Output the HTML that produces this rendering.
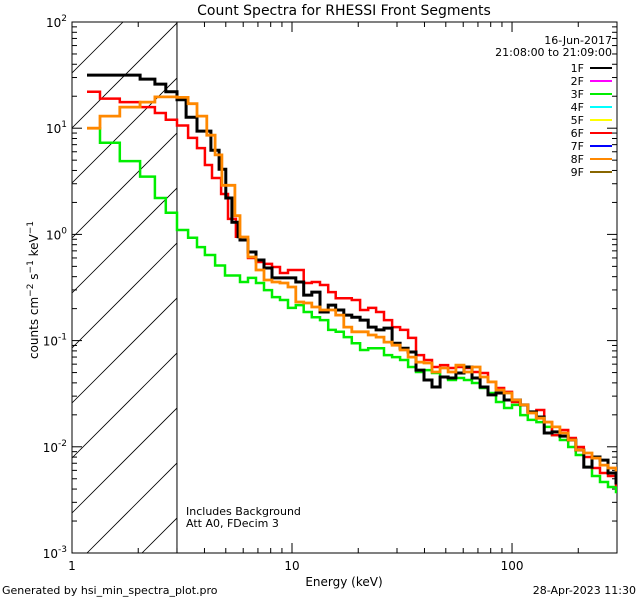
<!DOCTYPE html>
<html><head><meta charset="utf-8"><style>
html,body{margin:0;padding:0;background:#fff;width:640px;height:600px;overflow:hidden;}
svg{display:block;font-family:"DejaVu Sans","Liberation Sans",sans-serif;}
</style></head><body>
<svg id="chart" width="640" height="600" viewBox="0 0 640 600">
<defs><clipPath id="pc"><rect x="72" y="22" width="545" height="531"/></clipPath>
<clipPath id="hc"><rect x="72" y="22" width="105" height="531"/></clipPath></defs>
<text x="344" y="15" font-size="14" text-anchor="middle">Count Spectra for RHESSI Front Segments</text>
<g id="hatch" clip-path="url(#hc)"></g>
<g id="axes"></g>
<g id="series" clip-path="url(#pc)"></g>
<g id="legend"></g>
<text x="186" y="515" font-size="11">Includes Background</text>
<text x="186" y="527" font-size="11">Att A0, FDecim 3</text>
<text x="344" y="586" font-size="12" text-anchor="middle">Energy (keV)</text>
<text transform="translate(38,290) rotate(-90)" font-size="12" text-anchor="middle">counts cm<tspan dy="-5" font-size="9">−2</tspan><tspan dy="5"> s</tspan><tspan dy="-5" font-size="9">−1</tspan><tspan dy="5"> keV</tspan><tspan dy="-5" font-size="9">−1</tspan></text>
<text x="2" y="594" font-size="11">Generated by hsi_min_spectra_plot.pro</text>
<text x="636" y="594" font-size="11" text-anchor="end">28-Apr-2023 11:30</text>
</svg>
<script>
const xTickValues=[1,10,100];
const xTickLabels=["1","10","100"];
const yTickExps=[-3,-2,-1,0,1,2];
const legendLabels=["1F","2F","3F","4F","5F","6F","7F","8F","9F"];
const legendColors=["#000","#f0f","#0e0","#0ff","#ff0","#f00","#00f","#f80","#860"];
// shared high-energy bin edges (keV)
const highE=[5.80,6.31,6.86,7.46,8.11,8.82,9.59,10.4,11.3,12.3,13.4,14.6,15.8,17.2,18.7,20.4,22.2,24.1,26.2,28.5,31.0,33.7,36.6,39.8,43.3,47.1,51.2,55.6,60.5,65.8,71.6,77.8,84.6,92.0,100,109,118,129,140,152,165,180,195,212,231,251,273,297];
const blackLowE=[1.17,2.04,2.38,2.67,3.0,3.3,3.7,4.28,4.66,5.0,5.33,5.69];
const blackLowV=[31.6,29,26,22,18.5,12.7,9.4,6.2,4.1,2.2,1.3,0.95];
const blackHighV=[0.885,0.683,0.574,0.483,0.389,0.389,0.389,0.356,0.268,0.286,0.186,0.216,0.194,0.174,0.166,0.156,0.134,0.126,0.131,0.0946,0.0849,0.0781,0.0528,0.0426,0.0366,0.0454,0.0444,0.0495,0.0564,0.0444,0.0366,0.0308,0.0321,0.0276,0.0276,0.0248,0.0213,0.0191,0.0135,0.0138,0.0126,0.0116,0.00933,0.00644,0.00801,0.0075,0.00567,0.00456];
const redLowE=[1.17,1.34,1.65,2.04,2.38,2.67,3.0,3.37,3.7,4.02,4.33,4.76,5.12,5.56];
const redLowV=[22,19,17.6,15.8,13.9,12,10.6,8.1,6.5,4.5,3.4,2.4,1.4,0.95];
const redHighV=[0.885,0.600,0.550,0.527,0.493,0.433,0.462,0.462,0.349,0.356,0.334,0.286,0.251,0.251,0.241,0.194,0.203,0.186,0.156,0.134,0.126,0.106,0.0731,0.0656,0.0564,0.0588,0.0552,0.0564,0.0552,0.0506,0.0495,0.0408,0.0358,0.0329,0.0264,0.0248,0.0213,0.0222,0.0171,0.0129,0.0144,0.0121,0.00996,0.00801,0.00631,0.00567,0.00531,0.00437];
const orangeLowE=[1.17,1.34,1.65,2.04,2.38,3.0,3.37,3.7,4.1,4.47,4.8,5.5];
const orangeLowV=[10,13,15.8,17.6,19.7,19.5,17,13,8.6,5.6,2.9,1.5];
const orangeHighV=[0.945,0.612,0.462,0.372,0.356,0.349,0.320,0.231,0.226,0.207,0.194,0.194,0.174,0.134,0.121,0.121,0.113,0.108,0.0967,0.0906,0.0815,0.0700,0.0628,0.0615,0.0506,0.0552,0.0506,0.0588,0.0506,0.0564,0.0454,0.0408,0.0343,0.0321,0.0276,0.0248,0.0208,0.0186,0.0171,0.0154,0.0135,0.0116,0.00933,0.00874,0.00783,0.00673,0.00631,0.00605];
const greenLowE=[1.17,1.34,1.65,2.04,2.38,2.67,3.0,3.37,3.7,4.02,4.47,4.96];
const greenLowV=[10,7.3,4.9,3.5,2.2,1.6,1.1,0.93,0.76,0.64,0.51,0.41];
const greenHighV=[0.356,0.389,0.349,0.299,0.257,0.241,0.203,0.216,0.186,0.166,0.156,0.126,0.121,0.108,0.0946,0.0815,0.0849,0.0849,0.0731,0.0700,0.0656,0.0564,0.0506,0.0528,0.0495,0.0454,0.0426,0.0444,0.0426,0.0399,0.0358,0.0321,0.0264,0.0232,0.0248,0.0199,0.0179,0.0171,0.0154,0.0129,0.0116,0.00996,0.00837,0.00644,0.00531,0.00466,0.00418,0.00375];

const NS="http://www.w3.org/2000/svg";
const X0=72,X1=617,Y0=22,Y1=553;
const xMin=1,xMax=300,yMinE=-3,yMaxE=2;
function sx(e){return X0+(X1-X0)*(Math.log10(e)-Math.log10(xMin))/(Math.log10(xMax)-Math.log10(xMin));}
function sy(v){return Y1-(Y1-Y0)*(Math.log10(v)-yMinE)/(yMaxE-yMinE);}
function mk(tag,attrs,parent){const el=document.createElementNS(NS,tag);for(const k in attrs)el.setAttribute(k,attrs[k]);parent.appendChild(el);return el;}

const axes=document.getElementById('axes');
const frame=mk('rect',{x:X0,y:Y0,width:X1-X0,height:Y1-Y0,fill:'none',stroke:'#000','stroke-width':1},axes);


const th=mk('line',{x1:sx(3),x2:sx(3),y1:Y0,y2:Y1,stroke:'#000','stroke-width':1},axes);


const hatch=document.getElementById('hatch');
for(let k=-12;k<14;k++){
  const yb=Y1-40+k*55;
  mk('line',{x1:X0,y1:yb,x2:X0+600,y2:yb-600,stroke:'#000','stroke-width':0.8},hatch);
}
for(let d=0;d<3;d++){for(let m=1;m<10;m++){const e=m*Math.pow(10,d);if(e>xMax)break;const x=sx(e);const L=m===1?10:5;
  mk('line',{x1:x,x2:x,y1:Y1,y2:Y1-L,stroke:'#000'},axes);mk('line',{x1:x,x2:x,y1:Y0,y2:Y0+L,stroke:'#000'},axes);}}
xTickValues.forEach((v,i)=>{const t=mk('text',{x:sx(v),y:Y1+17,'font-size':12,'text-anchor':'middle'},axes);t.textContent=xTickLabels[i];
  
  });
yTickExps.forEach(p=>{for(let m=1;m<10;m++){const v=m*Math.pow(10,p);if(Math.log10(v)>yMaxE+1e-9)break;const y=sy(v);const L=m===1?10:5;
  mk('line',{x1:X0,x2:X0+L,y1:y,y2:y,stroke:'#000'},axes);mk('line',{x1:X1,x2:X1-L,y1:y,y2:y,stroke:'#000'},axes);}
  const t=mk('text',{x:X0-5,y:sy(Math.pow(10,p))+5,'font-size':12,'text-anchor':'end'},axes);
  t.innerHTML='10<tspan dy="-6" font-size="9">'+p+'</tspan>';
  
  });
const sg=document.getElementById('series');
function step(E,V,color,w,name){let d='';for(let i=0;i<E.length;i++){const x=sx(E[i]),y=sy(V[i]);const xn=i<E.length-1?sx(E[i+1]):sx(xMax);
  d+=(i===0?'M':'L')+x.toFixed(1)+','+y.toFixed(1)+'L'+xn.toFixed(1)+','+y.toFixed(1);}
  const p=mk('path',{d:d,fill:'none',stroke:color,'stroke-width':w},sg);
  
  }
step(greenLowE.concat(highE),greenLowV.concat(greenHighV),'#0e0',2.5,'series-3f');
step(redLowE.concat(highE),redLowV.concat(redHighV),'#f00',2.5,'series-6f');
step(blackLowE.concat(highE),blackLowV.concat(blackHighV),'#000',3,'series-1f');
step(orangeLowE.concat(highE),orangeLowV.concat(orangeHighV),'#f80',2.8,'series-8f');
const lg=document.getElementById('legend');
const d1=mk('text',{x:612,y:44,'font-size':11,'text-anchor':'end'},lg);d1.textContent='16-Jun-2017';


const d2=mk('text',{x:612,y:56,'font-size':11,'text-anchor':'end'},lg);d2.textContent='21:08:00 to 21:09:00';


legendLabels.forEach((l,i)=>{const y=68+i*13;
  const t=mk('text',{x:584,y:y+4,'font-size':11,'text-anchor':'end'},lg);t.textContent=l;
  
  
  mk('line',{x1:590,x2:612,y1:y,y2:y,stroke:legendColors[i],'stroke-width':2},lg);});
</script>
</body></html>
